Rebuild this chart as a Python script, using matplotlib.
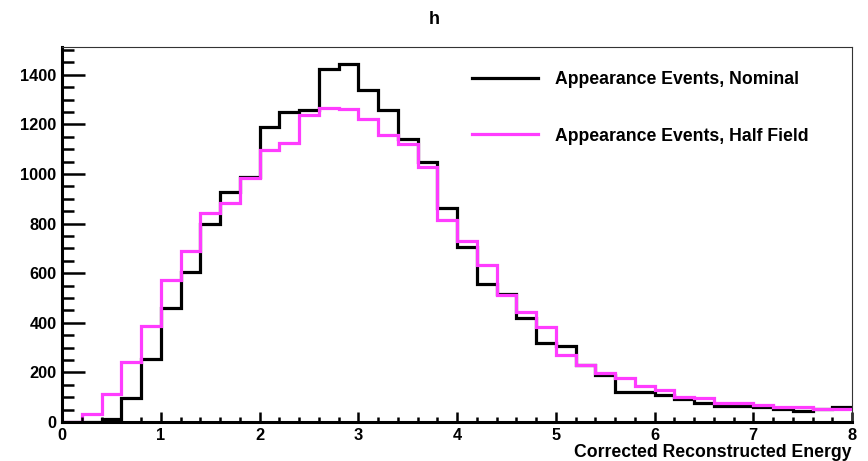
import matplotlib
matplotlib.use('Agg')
import matplotlib.pyplot as plt
from matplotlib.ticker import MultipleLocator
import numpy as np

plt.rcParams['font.family'] = ['Liberation Sans', 'DejaVu Sans']
plt.rcParams['font.weight'] = 'bold'

# 40 bins of 0.2 between 0 and 8
edges = np.linspace(0, 8, 41)

nominal = [0, 2, 14, 98, 255, 459, 606, 799, 929, 987,
           1189, 1250, 1259, 1423, 1445, 1338, 1257, 1142, 1047, 862,
           707, 557, 516, 418, 320, 307, 230, 190, 122, 122,
           109, 92, 75, 65, 65, 62, 51, 43, 51, 62]
half_field = [2, 33, 112, 243, 387, 573, 690, 842, 882, 983,
              1098, 1125, 1239, 1265, 1262, 1222, 1156, 1120, 1027, 815,
              728, 633, 512, 443, 385, 270, 230, 199, 176, 146,
              129, 102, 96, 75, 75, 69, 59, 59, 51, 51]

labels = ['Appearance Events, Nominal', 'Appearance Events, Half Field']

fig = plt.figure(figsize=(8.68, 4.61), dpi=100)
ax = fig.add_axes([62 / 868, 1 - 422 / 461, 790 / 868, 375 / 461])

ax.stairs(nominal, edges, baseline=None, color='black', lw=2.3, label=labels[0])
ax.stairs(half_field, edges, baseline=None, color='#ff3cff', lw=2.3, label=labels[1])

ax.set_xlim(0, 8)
ax.set_ylim(0, 1512)

ax.xaxis.set_major_locator(MultipleLocator(1))
ax.xaxis.set_minor_locator(MultipleLocator(0.2))
ax.yaxis.set_major_locator(MultipleLocator(200))
ax.yaxis.set_minor_locator(MultipleLocator(50))

ax.tick_params(axis='y', which='major', direction='in', length=16.5, width=1.8,
               labelsize=11.8, pad=4)
ax.tick_params(axis='y', which='minor', direction='in', length=8.5, width=1.8)
ax.tick_params(axis='x', which='major', direction='in', length=7.2, width=1.8,
               labelsize=11.8, pad=4)
ax.tick_params(axis='x', which='minor', direction='in', length=3.6, width=1.8)

for side in ['left', 'bottom']:
    ax.spines[side].set_linewidth(2.2)
for side in ['top', 'right']:
    ax.spines[side].set_linewidth(0.8)
    ax.spines[side].set_color('#333333')

ax.set_xlabel('Corrected Reconstructed Energy', loc='right', fontsize=12.7,
              fontweight='bold', labelpad=1)
fig.text(0.5, 1 - 20 / 461, 'h', ha='center', va='center', fontsize=13,
         fontweight='bold')

ax.legend(frameon=False, loc='center left', bbox_to_anchor=(0.519, 0.838),
          fontsize=12.7, handlelength=3.74, handletextpad=0.96,
          labelspacing=2.24, borderpad=0, borderaxespad=0)

fig.savefig('out.png', dpi=100)
